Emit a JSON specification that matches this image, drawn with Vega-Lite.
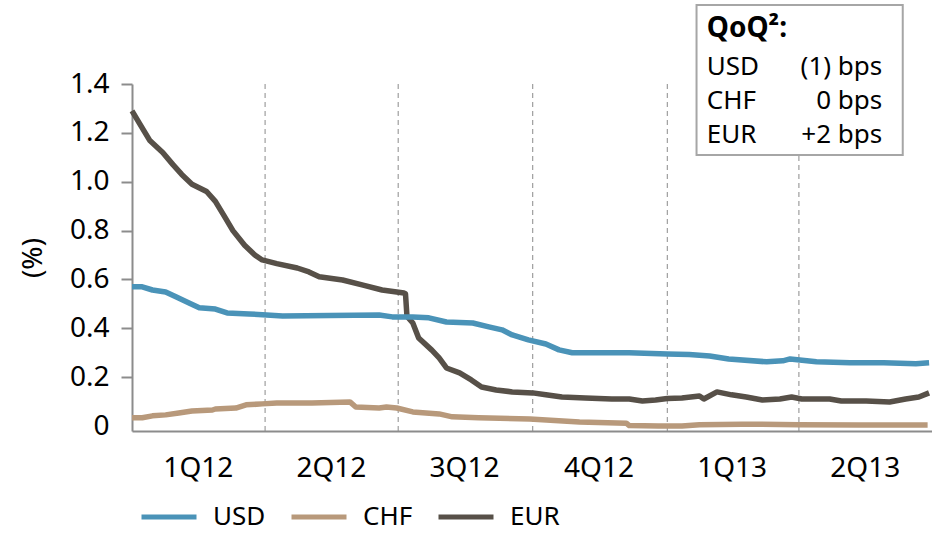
{
  "$schema": "https://vega.github.io/schema/vega-lite/v6.json",
  "width": 800,
  "height": 347,
  "autosize": {"type": "none"},
  "padding": {"left": 132, "top": 84, "right": 0, "bottom": 102},
  "background": "white",
  "config": {
    "font": "Noto Sans",
    "view": {"stroke": null},
    "axis": {"labelColor": "#000", "titleColor": "#000", "labelFont": "Noto Sans", "titleFont": "Noto Sans"}
  },
  "datasets": {
    "quarters": [
      {"q": "2012-04-01"}, {"q": "2012-07-01"}, {"q": "2012-10-01"}, {"q": "2013-01-01"}, {"q": "2013-04-01"}
    ],
    "series": [
      {"d": "2012-01-01", "c": "EUR", "v": 1.29},
      {"d": "2012-01-06", "c": "EUR", "v": 1.24},
      {"d": "2012-01-13", "c": "EUR", "v": 1.17},
      {"d": "2012-01-22", "c": "EUR", "v": 1.12},
      {"d": "2012-01-29", "c": "EUR", "v": 1.07},
      {"d": "2012-02-04", "c": "EUR", "v": 1.03},
      {"d": "2012-02-11", "c": "EUR", "v": 0.99},
      {"d": "2012-02-21", "c": "EUR", "v": 0.96},
      {"d": "2012-02-27", "c": "EUR", "v": 0.92},
      {"d": "2012-03-04", "c": "EUR", "v": 0.86},
      {"d": "2012-03-10", "c": "EUR", "v": 0.80},
      {"d": "2012-03-18", "c": "EUR", "v": 0.74},
      {"d": "2012-03-25", "c": "EUR", "v": 0.70},
      {"d": "2012-03-30", "c": "EUR", "v": 0.68},
      {"d": "2012-04-09", "c": "EUR", "v": 0.665},
      {"d": "2012-04-23", "c": "EUR", "v": 0.647},
      {"d": "2012-05-01", "c": "EUR", "v": 0.631},
      {"d": "2012-05-08", "c": "EUR", "v": 0.611},
      {"d": "2012-05-24", "c": "EUR", "v": 0.598},
      {"d": "2012-06-07", "c": "EUR", "v": 0.577},
      {"d": "2012-06-20", "c": "EUR", "v": 0.557},
      {"d": "2012-06-30", "c": "EUR", "v": 0.549},
      {"d": "2012-07-05", "c": "EUR", "v": 0.545},
      {"d": "2012-07-06", "c": "EUR", "v": 0.541},
      {"d": "2012-07-07", "c": "EUR", "v": 0.45},
      {"d": "2012-07-11", "c": "EUR", "v": 0.422},
      {"d": "2012-07-15", "c": "EUR", "v": 0.361},
      {"d": "2012-07-24", "c": "EUR", "v": 0.311},
      {"d": "2012-07-29", "c": "EUR", "v": 0.279},
      {"d": "2012-08-03", "c": "EUR", "v": 0.238},
      {"d": "2012-08-12", "c": "EUR", "v": 0.218},
      {"d": "2012-08-20", "c": "EUR", "v": 0.189},
      {"d": "2012-08-27", "c": "EUR", "v": 0.160},
      {"d": "2012-09-06", "c": "EUR", "v": 0.148},
      {"d": "2012-09-17", "c": "EUR", "v": 0.140},
      {"d": "2012-10-01", "c": "EUR", "v": 0.136},
      {"d": "2012-10-10", "c": "EUR", "v": 0.128},
      {"d": "2012-10-21", "c": "EUR", "v": 0.119},
      {"d": "2012-11-06", "c": "EUR", "v": 0.115},
      {"d": "2012-11-24", "c": "EUR", "v": 0.111},
      {"d": "2012-12-06", "c": "EUR", "v": 0.111},
      {"d": "2012-12-15", "c": "EUR", "v": 0.103},
      {"d": "2012-12-24", "c": "EUR", "v": 0.107},
      {"d": "2013-01-01", "c": "EUR", "v": 0.113},
      {"d": "2013-01-11", "c": "EUR", "v": 0.115},
      {"d": "2013-01-23", "c": "EUR", "v": 0.123},
      {"d": "2013-01-26", "c": "EUR", "v": 0.111},
      {"d": "2013-02-04", "c": "EUR", "v": 0.140},
      {"d": "2013-02-14", "c": "EUR", "v": 0.128},
      {"d": "2013-02-24", "c": "EUR", "v": 0.119},
      {"d": "2013-03-07", "c": "EUR", "v": 0.107},
      {"d": "2013-03-19", "c": "EUR", "v": 0.111},
      {"d": "2013-03-27", "c": "EUR", "v": 0.119},
      {"d": "2013-04-03", "c": "EUR", "v": 0.111},
      {"d": "2013-04-22", "c": "EUR", "v": 0.111},
      {"d": "2013-04-30", "c": "EUR", "v": 0.103},
      {"d": "2013-05-17", "c": "EUR", "v": 0.103},
      {"d": "2013-06-02", "c": "EUR", "v": 0.099},
      {"d": "2013-06-13", "c": "EUR", "v": 0.111},
      {"d": "2013-06-22", "c": "EUR", "v": 0.119},
      {"d": "2013-06-29", "c": "EUR", "v": 0.136},

      {"d": "2012-01-01", "c": "USD", "v": 0.570},
      {"d": "2012-01-08", "c": "USD", "v": 0.570},
      {"d": "2012-01-15", "c": "USD", "v": 0.557},
      {"d": "2012-01-24", "c": "USD", "v": 0.549},
      {"d": "2012-01-31", "c": "USD", "v": 0.529},
      {"d": "2012-02-09", "c": "USD", "v": 0.504},
      {"d": "2012-02-16", "c": "USD", "v": 0.484},
      {"d": "2012-02-27", "c": "USD", "v": 0.479},
      {"d": "2012-03-06", "c": "USD", "v": 0.463},
      {"d": "2012-03-21", "c": "USD", "v": 0.459},
      {"d": "2012-04-02", "c": "USD", "v": 0.455},
      {"d": "2012-04-13", "c": "USD", "v": 0.451},
      {"d": "2012-05-15", "c": "USD", "v": 0.453},
      {"d": "2012-06-18", "c": "USD", "v": 0.455},
      {"d": "2012-06-27", "c": "USD", "v": 0.447},
      {"d": "2012-07-11", "c": "USD", "v": 0.447},
      {"d": "2012-07-22", "c": "USD", "v": 0.443},
      {"d": "2012-08-03", "c": "USD", "v": 0.426},
      {"d": "2012-08-21", "c": "USD", "v": 0.422},
      {"d": "2012-09-01", "c": "USD", "v": 0.406},
      {"d": "2012-09-10", "c": "USD", "v": 0.394},
      {"d": "2012-09-17", "c": "USD", "v": 0.373},
      {"d": "2012-09-28", "c": "USD", "v": 0.353},
      {"d": "2012-10-10", "c": "USD", "v": 0.336},
      {"d": "2012-10-19", "c": "USD", "v": 0.312},
      {"d": "2012-10-28", "c": "USD", "v": 0.300},
      {"d": "2012-11-13", "c": "USD", "v": 0.300},
      {"d": "2012-12-06", "c": "USD", "v": 0.300},
      {"d": "2013-01-01", "c": "USD", "v": 0.295},
      {"d": "2013-01-16", "c": "USD", "v": 0.293},
      {"d": "2013-01-30", "c": "USD", "v": 0.287},
      {"d": "2013-02-12", "c": "USD", "v": 0.275},
      {"d": "2013-03-10", "c": "USD", "v": 0.263},
      {"d": "2013-03-21", "c": "USD", "v": 0.267},
      {"d": "2013-03-26", "c": "USD", "v": 0.275},
      {"d": "2013-04-13", "c": "USD", "v": 0.263},
      {"d": "2013-05-06", "c": "USD", "v": 0.259},
      {"d": "2013-05-29", "c": "USD", "v": 0.259},
      {"d": "2013-06-20", "c": "USD", "v": 0.255},
      {"d": "2013-06-29", "c": "USD", "v": 0.259},

      {"d": "2012-01-01", "c": "CHF", "v": 0.034},
      {"d": "2012-01-08", "c": "CHF", "v": 0.034},
      {"d": "2012-01-15", "c": "CHF", "v": 0.042},
      {"d": "2012-01-24", "c": "CHF", "v": 0.046},
      {"d": "2012-02-02", "c": "CHF", "v": 0.054},
      {"d": "2012-02-11", "c": "CHF", "v": 0.062},
      {"d": "2012-02-25", "c": "CHF", "v": 0.066},
      {"d": "2012-02-27", "c": "CHF", "v": 0.070},
      {"d": "2012-03-12", "c": "CHF", "v": 0.074},
      {"d": "2012-03-19", "c": "CHF", "v": 0.087},
      {"d": "2012-03-30", "c": "CHF", "v": 0.091},
      {"d": "2012-04-09", "c": "CHF", "v": 0.095},
      {"d": "2012-05-03", "c": "CHF", "v": 0.095},
      {"d": "2012-05-29", "c": "CHF", "v": 0.099},
      {"d": "2012-06-02", "c": "CHF", "v": 0.078},
      {"d": "2012-06-18", "c": "CHF", "v": 0.074},
      {"d": "2012-06-23", "c": "CHF", "v": 0.078},
      {"d": "2012-06-30", "c": "CHF", "v": 0.074},
      {"d": "2012-07-11", "c": "CHF", "v": 0.058},
      {"d": "2012-07-29", "c": "CHF", "v": 0.050},
      {"d": "2012-08-07", "c": "CHF", "v": 0.038},
      {"d": "2012-08-25", "c": "CHF", "v": 0.034},
      {"d": "2012-09-29", "c": "CHF", "v": 0.029},
      {"d": "2012-11-02", "c": "CHF", "v": 0.017},
      {"d": "2012-12-04", "c": "CHF", "v": 0.012},
      {"d": "2012-12-06", "c": "CHF", "v": 0.002},
      {"d": "2012-12-26", "c": "CHF", "v": 0.0},
      {"d": "2013-01-11", "c": "CHF", "v": 0.0},
      {"d": "2013-01-23", "c": "CHF", "v": 0.006},
      {"d": "2013-02-21", "c": "CHF", "v": 0.008},
      {"d": "2013-04-01", "c": "CHF", "v": 0.006},
      {"d": "2013-05-12", "c": "CHF", "v": 0.005},
      {"d": "2013-06-28", "c": "CHF", "v": 0.005}
    ]
  },
  "layer": [
    {
      "data": {"name": "quarters"},
      "mark": {"type": "rule", "color": "#8a8a8a", "strokeWidth": 1, "strokeDash": [5, 4]},
      "encoding": {
        "x": {"field": "q", "type": "temporal",
              "scale": {"type": "utc", "nice": false, "domain": [{"year": 2012, "month": 1, "date": 1, "utc": true}, {"year": 2013, "month": 7, "date": 1, "utc": true}]},
              "axis": {
                "values": [
                  {"year": 2012, "month": 2, "date": 15, "utc": true},
                  {"year": 2012, "month": 5, "date": 16, "utc": true},
                  {"year": 2012, "month": 8, "date": 15, "utc": true},
                  {"year": 2012, "month": 11, "date": 15, "utc": true},
                  {"year": 2013, "month": 2, "date": 14, "utc": true},
                  {"year": 2013, "month": 5, "date": 16, "utc": true}
                ],
                "labelExpr": "utcFormat(datum.value, '%q') + 'Q' + utcFormat(datum.value, '%y')",
                "title": null, "ticks": false, "grid": false,
                "domainColor": "#8c8c8c", "domainWidth": 2,
                "labelFontSize": 28, "labelPadding": 23, "labelFlush": false, "labelOverlap": false
              }}
      }
    },
    {
      "data": {"name": "series"},
      "mark": {"type": "line", "strokeWidth": 5.5, "strokeJoin": "round"},
      "encoding": {
        "x": {"field": "d", "type": "temporal", "scale": {"type": "utc", "nice": false, "domain": [{"year": 2012, "month": 1, "date": 1, "utc": true}, {"year": 2013, "month": 7, "date": 1, "utc": true}]}},
        "y": {"field": "v", "type": "quantitative",
              "scale": {"domain": [-0.02, 1.4], "nice": false, "zero": false},
              "axis": {
                "values": [0, 0.2, 0.4, 0.6, 0.8, 1.0, 1.2, 1.4],
                "labelExpr": "datum.value == 0 ? '0' : format(datum.value, '.1f')",
                "title": "(%)", "titleFontSize": 28, "titleFontWeight": "normal", "titlePadding": 22,
                "grid": false, "tickSize": 11, "tickWidth": 2,
                "tickColor": {"condition": {"test": "datum.value == 0", "value": "transparent"}, "value": "#8c8c8c"},
                "domainColor": "#8c8c8c", "domainWidth": 2,
                "labelFontSize": 28, "labelPadding": 12
              }},
        "color": {"field": "c", "type": "nominal",
                  "scale": {"domain": ["USD", "CHF", "EUR"], "range": ["#4a93b8", "#b8997b", "#575048"]},
                  "legend": {"orient": "none", "legendX": 7, "legendY": 403, "direction": "horizontal", "title": null,
                             "symbolType": "stroke", "symbolStrokeWidth": 5, "symbolSize": 3025,
                             "labelFontSize": 26, "labelOffset": 14, "columnPadding": 15, "labelColor": "#000"}}
      }
    },
    {
      "data": {"values": [{}]},
      "mark": {"type": "rect", "fill": "white", "stroke": "#a6a6a6", "strokeWidth": 2},
      "encoding": {
        "x": {"datum": {"year": 2013, "month": 1, "date": 21, "utc": true}, "type": "temporal"},
        "x2": {"datum": {"year": 2013, "month": 6, "date": 11, "utc": true}},
        "y": {"datum": 1.723, "type": "quantitative"},
        "y2": {"datum": 1.109}
      }
    },
    {
      "data": {"values": [{}]},
      "mark": {"type": "text", "text": "QoQ²:", "fontSize": 28, "fontWeight": "bold", "align": "left", "baseline": "alphabetic", "color": "#000"},
      "encoding": {
        "x": {"datum": {"year": 2013, "month": 1, "date": 28, "utc": true}, "type": "temporal"},
        "y": {"datum": 1.592, "type": "quantitative"}
      }
    },
    {
      "data": {"values": [{}]},
      "mark": {"type": "text", "text": ["USD", "CHF", "EUR"], "lineHeight": 34, "fontSize": 26, "align": "left", "baseline": "alphabetic", "color": "#000"},
      "encoding": {
        "x": {"datum": {"year": 2013, "month": 1, "date": 28, "utc": true}, "type": "temporal"},
        "y": {"datum": 1.4365, "type": "quantitative"}
      }
    },
    {
      "data": {"values": [{}]},
      "mark": {"type": "text", "text": ["(1) bps", "0 bps", "+2 bps"], "lineHeight": 34, "fontSize": 26, "align": "right", "baseline": "alphabetic", "color": "#000"},
      "encoding": {
        "x": {"datum": {"year": 2013, "month": 5, "date": 28, "utc": true}, "type": "temporal"},
        "y": {"datum": 1.4365, "type": "quantitative"}
      }
    }
  ]
}
